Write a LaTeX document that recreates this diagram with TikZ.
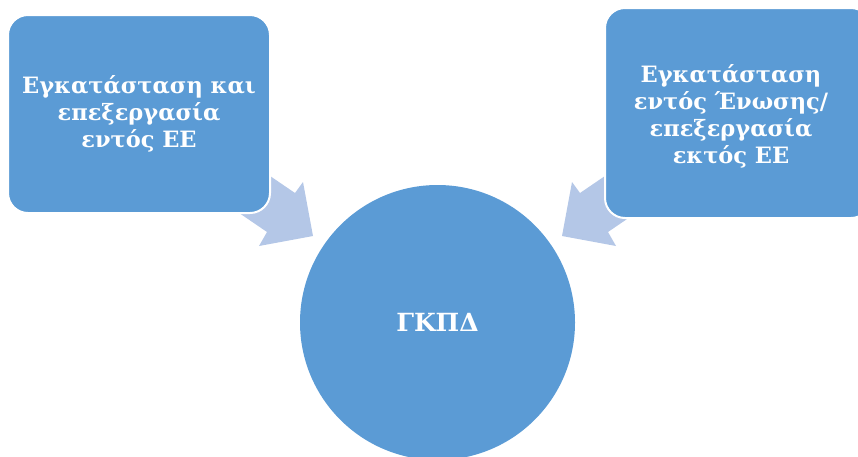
\documentclass[tikz,border=0pt]{standalone}
\usepackage{fontspec}
\setmainfont{DejaVu Serif}
\usepackage{tikz}

\definecolor{boxblue}{HTML}{5B9BD5}
\definecolor{arrowblue}{HTML}{B4C7E7}

\tikzset{
  box/.style={rectangle, rounded corners=20pt, fill=boxblue, draw=white, line width=2pt,
    text=white, font=\bfseries\fontsize{22.5}{27}\selectfont, align=center, inner sep=0pt},
  ring/.style={circle, fill=boxblue, text=white, font=\bfseries\fontsize{25}{27}\selectfont,
    minimum size=275pt, inner sep=0pt},
  blockarrow/.style={fill=arrowblue, draw=none}
}

\begin{document}
\begin{tikzpicture}[x=1pt, y=-1pt]
  \useasboundingbox (0,0) rectangle (858,456);
  \clip (0,0) rectangle (858,456);

  % the two block arrows
  \fill[blockarrow] (229,148) -- (295,193) -- (303,182) -- (313,236) -- (259,246) -- (267,232) -- (201,187) -- cycle;
  \begin{scope}[xshift=875pt, xscale=-1]
    \fill[blockarrow] (229,148) -- (295,193) -- (303,182) -- (313,236) -- (259,246) -- (267,232) -- (201,187) -- cycle;
  \end{scope}

  % boxes
  \node[box, minimum width=262pt, minimum height=198pt] (inside) at (139,114)
    {Εγκατάσταση και\\επεξεργασία\\εντός ΕΕ};
  \node[box, minimum width=266pt, minimum height=210pt] (outside) at (738,113) {};
  \node[text=white, font=\bfseries\fontsize{22.5}{27}\selectfont, align=center] (outtext) at (731,116)
    {Εγκατάσταση\\εντός Ένωσης/\\επεξεργασία\\εκτός ΕΕ};

  % centre
  \node[ring] (gkpd) at (437.5,322.5) {ΓΚΠΔ};
\end{tikzpicture}
\end{document}
